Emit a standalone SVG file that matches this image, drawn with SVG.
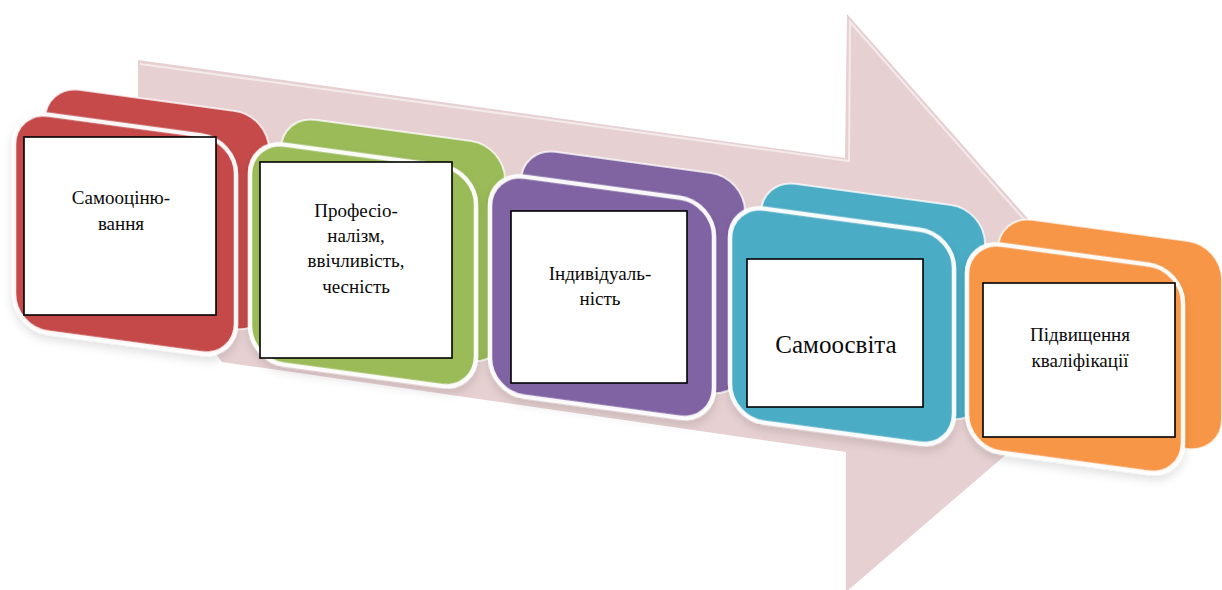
<svg xmlns="http://www.w3.org/2000/svg" width="1222" height="590" viewBox="0 0 1222 590">
  <defs>
    <style>
      .back { stroke: #ffffff; stroke-width: 2; stroke-opacity: 0.75; }
      .front { stroke: #ffffff; stroke-width: 4.5; stroke-opacity: 0.95; }
      .tb { fill: #ffffff; stroke: #000000; stroke-width: 1.6; }
      .lbl { font-size: 19px; fill: #0a0a0a; text-anchor: middle; }
      .big { font-size: 25px; }
      .red { fill: #c64a4a; }
      .green { fill: #9bbb59; }
      .purple { fill: #8064a2; }
      .cyan { fill: #4bacc6; }
      .orange { fill: #f79646; }
    </style>
    <filter id="sh" x="-20%" y="-20%" width="140%" height="150%">
      <feDropShadow dx="0" dy="5" stdDeviation="5" flood-color="#000000" flood-opacity="0.12"/>
    </filter>
  </defs>
  <rect width="1222" height="590" fill="#ffffff"/>

  <g id="connectors">
    <g id="flow-arrow">
      <polygon points="138,60 845,158 847,14 1137,342 846,592 846,452 222,362 138,250" fill="#e6d0d1"/>
      <polyline points="140,64 849,161 850,22 1125,334" fill="none" stroke="#ffffff" stroke-width="2" stroke-opacity="0.55"/>
    </g>
  </g>

  <g font-family="'Liberation Serif', 'DejaVu Serif', 'Times New Roman', serif">
  <g id="node-1">
    <g transform="translate(14,110) skewY(7.7)">
      <rect class="red back" x="31" y="-29" width="224" height="218" rx="34"/>
      <rect class="red front" x="0" y="0" width="222" height="218" rx="34" filter="url(#sh)"/>
    </g>
    <rect class="tb" x="24" y="137" width="192" height="178"/>
    <text class="lbl" x="121" y="204">Самооціню-</text>
    <text class="lbl" x="121" y="230">вання</text>
  </g>

  <g id="node-2">
    <g transform="translate(250,140) skewY(7.7)">
      <rect class="green back" x="31" y="-29" width="224" height="220" rx="34"/>
      <rect class="green front" x="0" y="0" width="226" height="220" rx="34" filter="url(#sh)"/>
    </g>
    <rect class="tb" x="260" y="162" width="192" height="196"/>
    <text class="lbl" x="356" y="217">Професіо-</text>
    <text class="lbl" x="356" y="242">налізм,</text>
    <text class="lbl" x="356" y="267">ввічливість,</text>
    <text class="lbl" x="356" y="293">чесність</text>
  </g>

  <g id="node-3">
    <g transform="translate(490,172) skewY(7.7)">
      <rect class="purple back" x="31" y="-29" width="224" height="220" rx="34"/>
      <rect class="purple front" x="0" y="0" width="224" height="220" rx="34" filter="url(#sh)"/>
    </g>
    <rect class="tb" x="511" y="211" width="176" height="172"/>
    <text class="lbl" x="600" y="280">Індивідуаль-</text>
    <text class="lbl" x="600" y="305">ність</text>
  </g>

  <g id="node-4">
    <g transform="translate(730,204) skewY(7.7)">
      <rect class="cyan back" x="31" y="-29" width="224" height="214" rx="34"/>
      <rect class="cyan front" x="0" y="0" width="224" height="214" rx="34" filter="url(#sh)"/>
    </g>
    <rect class="tb" x="747" y="259" width="176" height="148"/>
    <text class="lbl big" x="836" y="353">Самоосвіта</text>
  </g>

  <g id="node-5">
    <g transform="translate(967,240) skewY(7.7)">
      <rect class="orange back" x="31" y="-29" width="224" height="208" rx="34"/>
      <rect class="orange front" x="0" y="0" width="216" height="208" rx="34" filter="url(#sh)"/>
    </g>
    <rect class="tb" x="983" y="283" width="192" height="154"/>
    <text class="lbl" x="1080" y="341">Підвищення</text>
    <text class="lbl" x="1080" y="367">кваліфікації</text>
  </g>
  </g>
</svg>
